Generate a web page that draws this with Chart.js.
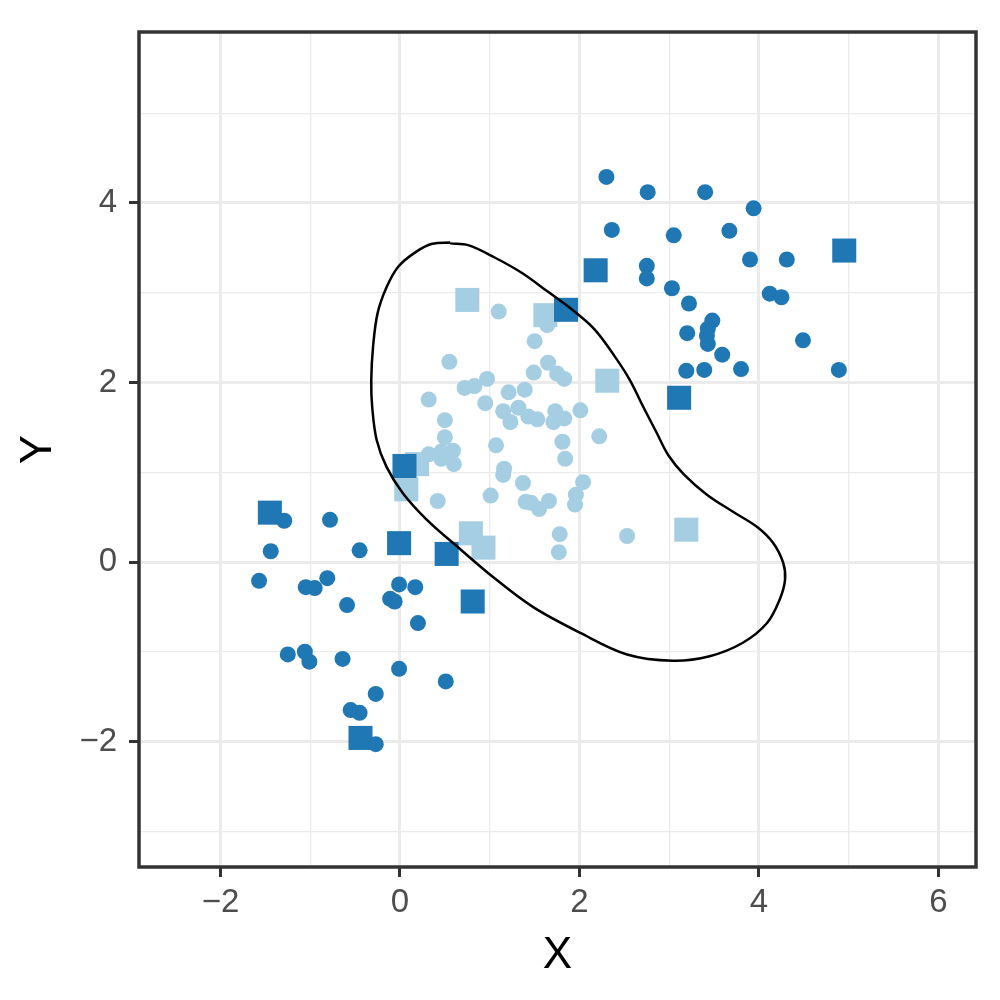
<!DOCTYPE html>
<html>
<head>
<meta charset="utf-8">
<script src="https://cdn.jsdelivr.net/npm/chart.js@4/dist/chart.umd.min.js"></script>
<style>
  html, body { margin: 0; padding: 0; background: #fff; }
  #wrap { width: 1000px; height: 1000px; }
</style>
</head>
<body>
<div id="wrap"><canvas id="plot"></canvas></div>
<script>
// cluster A (dark blue circles)
var darkCircles = [
  [-1.29, 0.46], [-0.78, 0.47], [-1.44, 0.12], [-0.45, 0.13], [-1.57, -0.21],
  [-1.05, -0.28], [-0.95, -0.29], [-0.81, -0.18], [-0.59, -0.48], [-0.01, -0.25],
  [0.17, -0.28], [-0.11, -0.41], [-0.06, -0.44], [0.20, -0.68], [-1.25, -1.03],
  [-1.06, -1.00], [-1.01, -1.11], [-0.64, -1.08], [-0.01, -1.19], [0.51, -1.33],
  [-0.27, -1.47], [-0.55, -1.65], [-0.45, -1.68], [-0.27, -2.03],
  [2.30, 4.29], [2.76, 4.12], [3.40, 4.12], [3.94, 3.94], [2.36, 3.70],
  [3.05, 3.64], [3.67, 3.69], [2.75, 3.30], [2.75, 3.16], [3.90, 3.37],
  [4.31, 3.37], [3.03, 3.05], [3.22, 2.88], [4.12, 2.99], [4.25, 2.95],
  [3.48, 2.69], [3.43, 2.60], [3.42, 2.52], [3.43, 2.43], [3.20, 2.55],
  [4.49, 2.47], [3.59, 2.31], [3.19, 2.13], [3.39, 2.14], [3.80, 2.15],
  [4.89, 2.14]
];
// cluster B (light blue circles)
var lightCircles = [
  [1.10, 2.79], [1.64, 2.64], [1.50, 2.46], [0.55, 2.23], [1.65, 2.22],
  [1.49, 2.11], [1.75, 2.10], [1.83, 2.04], [0.72, 1.94], [0.83, 1.96],
  [0.97, 2.04], [1.21, 1.89], [1.39, 1.92], [0.32, 1.81], [0.95, 1.77],
  [1.15, 1.68], [1.32, 1.72], [1.23, 1.56], [1.43, 1.62], [1.53, 1.59],
  [1.73, 1.68], [1.71, 1.56], [1.83, 1.60], [2.01, 1.69], [0.50, 1.58],
  [0.50, 1.39], [2.22, 1.40], [1.81, 1.34], [1.07, 1.30], [0.32, 1.20],
  [0.46, 1.23], [0.59, 1.24], [0.46, 1.15], [0.60, 1.09], [1.84, 1.15],
  [1.16, 1.04], [1.15, 0.97], [1.37, 0.88], [2.04, 0.89], [1.96, 0.75],
  [1.95, 0.64], [0.42, 0.68], [1.01, 0.74], [1.40, 0.67], [1.46, 0.66],
  [1.55, 0.59], [1.66, 0.68], [1.78, 0.31], [1.77, 0.11], [2.53, 0.29]
];
// misclassified / flagged points
var darkSquares = [
  [-1.45, 0.55], [-0.01, 0.21], [0.52, 0.09], [0.81, -0.44], [-0.44, -1.96],
  [0.05, 1.07], [1.85, 2.81], [2.18, 3.25], [3.11, 1.83], [4.95, 3.47]
];
var lightSquares = [
  [0.75, 2.92], [1.62, 2.75], [2.31, 2.02], [0.19, 1.09], [0.07, 0.81],
  [0.79, 0.32], [0.93, 0.16], [3.19, 0.36]
];
// contour of the decision region
var contourX = [0.56, 0.76, 1.06, 1.36, 1.65, 1.92, 2.17, 2.40, 2.56, 2.71, 2.86, 2.99,
  3.16, 3.42, 3.71, 3.98, 4.16, 4.27, 4.29, 4.23, 4.09, 3.82, 3.45, 3.04, 2.53,
  2.01, 1.48, 1.04, 0.64, 0.30, 0.03, -0.15, -0.26, -0.31, -0.32, -0.30, -0.25, -0.15,
  -0.02, 0.17, 0.36, 0.56];
var contourY = [3.55, 3.53, 3.39, 3.22, 3.01, 2.81, 2.59, 2.28, 2.03, 1.73, 1.44, 1.19,
  0.98, 0.75, 0.56, 0.39, 0.21, -0.01, -0.20, -0.42, -0.68, -0.90, -1.05, -1.10, -1.03,
  -0.79, -0.50, -0.17, 0.17, 0.47, 0.77, 1.06, 1.36, 1.73, 2.03, 2.40, 2.77,
  3.06, 3.29, 3.45, 3.545, 3.56];

var xRange = [-2.908, 6.418];
var yRange = [-3.398, 5.905];

function pts(arr) { return arr.map(function (p) { return { x: p[0], y: p[1] }; }); }
var contour = contourX.map(function (x, i) { return { x: x, y: contourY[i] }; });

var darkBlue = '#1F78B4';
var lightBlue = '#A6CEE3';

function tickLabel(v) {
  if (v % 2 !== 0) return '';
  return v < 0 ? '\u2212' + Math.abs(v) : String(v);
}
function gridWidth(c) { return c.tick && c.tick.value % 2 === 0 ? 3 : 1.3; }
function tickCol(c) { return c.tick && c.tick.value % 2 === 0 ? '#333333' : 'rgba(0,0,0,0)'; }

var framePlugin = {
  id: 'frame',
  afterDraw: function (chart) {
    var a = chart.chartArea, ctx = chart.ctx;
    ctx.save();
    ctx.strokeStyle = '#333333';
    ctx.lineWidth = 3.5;
    ctx.strokeRect(a.left, a.top, a.right - a.left, a.bottom - a.top);
    ctx.restore();
  }
};

new Chart(document.getElementById('plot'), {
  type: 'scatter',
  data: {
    datasets: [
      { data: contour, showLine: true, tension: 0.35, borderColor: '#000000', borderWidth: 2.5,
        pointRadius: 0, fill: false, order: 0 },
      { data: pts(darkCircles), backgroundColor: darkBlue, pointStyle: 'circle',
        pointRadius: 8, pointBorderWidth: 0, order: 1 },
      { data: pts(lightCircles), backgroundColor: lightBlue, pointStyle: 'circle',
        pointRadius: 8, pointBorderWidth: 0, order: 1 },
      { data: pts(darkSquares), backgroundColor: darkBlue, pointStyle: 'rect',
        pointRadius: 17, pointBorderWidth: 0, order: 2 },
      { data: pts(lightSquares), backgroundColor: lightBlue, pointStyle: 'rect',
        pointRadius: 17, pointBorderWidth: 0, order: 3 }
    ]
  },
  options: {
    responsive: true,
    maintainAspectRatio: false,
    animation: false,
    events: [],
    layout: { padding: { top: 32, right: 24, left: 0, bottom: 0 } },
    plugins: { legend: { display: false }, tooltip: { enabled: false } },
    scales: {
      x: {
        type: 'linear', min: xRange[0], max: xRange[1],
        afterFit: function (s) { s.height = 133; },
        border: { display: false },
        grid: { color: '#EBEBEB', lineWidth: gridWidth, tickLength: 10, tickColor: tickCol, tickWidth: 3 },
        ticks: { stepSize: 1, includeBounds: false, autoSkip: false, maxRotation: 0, padding: 6,
          color: '#4D4D4D', font: { family: 'Liberation Sans', size: 33 }, callback: tickLabel },
        title: { display: true, text: 'X', color: '#000000', padding: { top: 0, bottom: 18 },
          font: { family: 'Liberation Sans', size: 44 } }
      },
      y: {
        type: 'linear', min: yRange[0], max: yRange[1],
        afterFit: function (s) { s.width = 139; },
        border: { display: false },
        grid: { color: '#EBEBEB', lineWidth: gridWidth, tickLength: 10, tickColor: tickCol, tickWidth: 3 },
        ticks: { stepSize: 1, includeBounds: false, autoSkip: false, padding: 12,
          color: '#4D4D4D', font: { family: 'Liberation Sans', size: 33 }, callback: tickLabel },
        title: { display: true, text: 'Y', color: '#000000', padding: { top: 12, bottom: 0 },
          font: { family: 'Liberation Sans', size: 44 } }
      }
    }
  },
  plugins: [framePlugin]
});
</script>
</body>
</html>
